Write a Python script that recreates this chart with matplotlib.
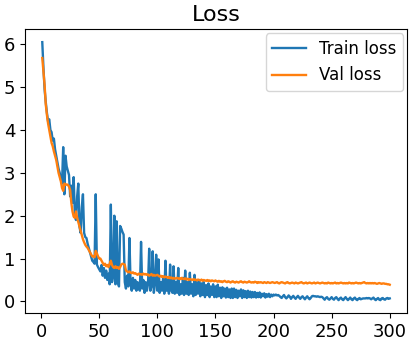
import numpy as np
import matplotlib
matplotlib.use("Agg")
import matplotlib.pyplot as plt

# values, one per epoch (1..300)
train_loss = [
    6.05, 5.45, 4.95, 4.65, 4.40, 4.20, 4.25, 4.00, 3.95, 3.75,
    3.80, 3.55, 3.40, 3.25, 3.10, 3.00, 2.85, 2.75, 3.60, 2.50,
    3.40, 3.15, 3.05, 2.95, 2.45, 2.70, 2.30, 2.90, 2.05, 1.90,
    2.45, 2.75, 1.75, 1.60, 2.20, 2.50, 1.60, 1.50, 1.48, 1.35,
    1.25, 1.15, 1.05, 0.95, 0.92, 0.88, 2.50, 0.86, 0.80, 0.75,
    0.70, 0.85, 0.60, 0.78, 0.55, 0.72, 0.50, 0.65, 0.40, 2.26,
    0.45, 0.60, 2.00, 0.40, 1.87, 0.45, 0.35, 1.76, 1.70, 1.62,
    1.56, 0.45, 0.30, 0.60, 0.35, 1.48, 0.40, 0.25, 0.55, 0.30,
    0.50, 0.25, 0.45, 0.30, 0.25, 1.39, 0.30, 0.50, 0.20, 0.45,
    0.25, 0.40, 1.23, 0.25, 0.35, 1.17, 0.20, 0.40, 1.09, 0.25,
    0.98, 0.20, 0.45, 0.25, 0.55, 0.18, 0.95, 0.25, 0.50, 0.18,
    0.86, 0.25, 0.20, 0.82, 0.18, 0.45, 0.20, 0.78, 0.15, 0.40,
    0.18, 0.55, 0.15, 0.72, 0.18, 0.45, 0.15, 0.67, 0.18, 0.40,
    0.12, 0.62, 0.15, 0.45, 0.18, 0.50, 0.12, 0.42, 0.15, 0.45,
    0.10, 0.38, 0.15, 0.42, 0.10, 0.35, 0.15, 0.40, 0.10, 0.35,
    0.10, 0.39, 0.12, 0.32, 0.08, 0.33, 0.12, 0.30, 0.09, 0.32,
    0.10, 0.28, 0.08, 0.30, 0.08, 0.30, 0.10, 0.27, 0.08, 0.25,
    0.12, 0.28, 0.08, 0.26, 0.10, 0.24, 0.08, 0.25, 0.10, 0.23,
    0.09, 0.22, 0.10, 0.22, 0.09, 0.20, 0.10, 0.21, 0.09, 0.18,
    0.12, 0.19, 0.09, 0.17, 0.11, 0.18, 0.10, 0.16, 0.12, 0.16,
    0.14, 0.16, 0.14, 0.15, 0.13, 0.10, 0.08, 0.12, 0.15, 0.10,
    0.07, 0.10, 0.14, 0.11, 0.06, 0.10, 0.13, 0.09, 0.06, 0.10,
    0.13, 0.09, 0.06, 0.10, 0.12, 0.08, 0.05, 0.09, 0.12, 0.08,
    0.05, 0.08, 0.12, 0.13, 0.12, 0.12, 0.11, 0.12, 0.11, 0.10,
    0.11, 0.10, 0.07, 0.04, 0.08, 0.10, 0.06, 0.04, 0.07, 0.10,
    0.06, 0.04, 0.08, 0.10, 0.06, 0.03, 0.07, 0.09, 0.05, 0.03,
    0.07, 0.10, 0.06, 0.03, 0.06, 0.09, 0.05, 0.03, 0.07, 0.09,
    0.05, 0.03, 0.06, 0.08, 0.05, 0.06, 0.07, 0.07, 0.07, 0.08,
    0.07, 0.08, 0.07, 0.05, 0.07, 0.09, 0.05, 0.03, 0.06, 0.08,
    0.04, 0.03, 0.07, 0.08, 0.05, 0.04, 0.07, 0.08, 0.06, 0.07,
]

val_loss = [
    5.68, 5.35, 5.05, 4.60, 4.35, 4.15, 4.00, 3.85, 3.70, 3.62,
    3.50, 3.40, 3.30, 3.15, 3.00, 2.90, 2.80, 2.65, 2.58, 2.75,
    2.72, 2.73, 2.72, 2.68, 2.60, 2.30, 2.10, 1.98, 1.95, 2.10,
    1.95, 1.85, 1.75, 1.65, 1.55, 1.45, 1.38, 1.32, 1.28, 1.25,
    1.20, 1.15, 1.10, 1.05, 1.05, 1.03, 1.18, 1.12, 1.05, 1.00,
    1.00, 0.95, 0.90, 0.85, 0.88, 0.82, 0.85, 0.80, 0.88, 0.95,
    0.85, 0.80, 0.78, 0.82, 0.78, 0.80, 0.76, 0.80, 0.86, 0.88,
    0.87, 0.86, 0.72, 0.70, 0.68, 0.70, 0.67, 0.66, 0.68, 0.65,
    0.66, 0.64, 0.62, 0.65, 0.63, 0.64, 0.62, 0.65, 0.63, 0.64,
    0.62, 0.63, 0.60, 0.62, 0.64, 0.60, 0.62, 0.60, 0.61, 0.62,
    0.60, 0.58, 0.60, 0.57, 0.59, 0.56, 0.58, 0.57, 0.55, 0.57,
    0.54, 0.56, 0.53, 0.55, 0.53, 0.54, 0.55, 0.53, 0.54, 0.52,
    0.55, 0.53, 0.52, 0.54, 0.51, 0.53, 0.50, 0.52, 0.51, 0.50,
    0.52, 0.50, 0.51, 0.49, 0.51, 0.50, 0.49, 0.51, 0.48, 0.50,
    0.49, 0.48, 0.50, 0.48, 0.49, 0.47, 0.49, 0.48, 0.47, 0.49,
    0.47, 0.46, 0.48, 0.46, 0.47, 0.45, 0.47, 0.48, 0.46, 0.45,
    0.47, 0.46, 0.44, 0.46, 0.47, 0.45, 0.44, 0.46, 0.45, 0.44,
    0.46, 0.47, 0.45, 0.44, 0.46, 0.45, 0.44, 0.45, 0.47, 0.45,
    0.44, 0.45, 0.44, 0.46, 0.45, 0.43, 0.45, 0.44, 0.45, 0.44,
    0.43, 0.45, 0.44, 0.43, 0.45, 0.44, 0.43, 0.44, 0.45, 0.44,
    0.43, 0.44, 0.45, 0.43, 0.42, 0.44, 0.45, 0.44, 0.43, 0.42,
    0.44, 0.45, 0.43, 0.42, 0.43, 0.44, 0.43, 0.42, 0.44, 0.43,
    0.42, 0.43, 0.44, 0.45, 0.43, 0.42, 0.43, 0.44, 0.42, 0.43,
    0.44, 0.43, 0.42, 0.43, 0.44, 0.42, 0.43, 0.44, 0.43, 0.42,
    0.43, 0.44, 0.43, 0.42, 0.43, 0.42, 0.44, 0.43, 0.42, 0.43,
    0.42, 0.43, 0.44, 0.42, 0.43, 0.42, 0.43, 0.44, 0.43, 0.42,
    0.43, 0.42, 0.43, 0.42, 0.44, 0.43, 0.42, 0.43, 0.42, 0.43,
    0.44, 0.43, 0.42, 0.43, 0.42, 0.43, 0.44, 0.45, 0.43, 0.42,
    0.43, 0.42, 0.43, 0.42, 0.43, 0.42, 0.43, 0.42, 0.41, 0.42,
    0.43, 0.42, 0.41, 0.42, 0.42, 0.41, 0.41, 0.40, 0.40, 0.39,
]

epochs = np.arange(1, len(train_loss) + 1)

fig = plt.figure(figsize=(4.15, 3.44), dpi=100)
ax = fig.add_axes([0.06, 0.09, 0.921, 0.825])

ax.plot(epochs, train_loss, label='Train loss', linewidth=1.7)
ax.plot(epochs, val_loss, label='Val loss', linewidth=1.7)
ax.set_title('Loss', fontsize=16)
ax.tick_params(labelsize=13)
ax.set_yticks([0, 1, 2, 3, 4, 5, 6])
ax.legend(loc='upper right', fontsize=12, borderaxespad=0.25)

plt.savefig('out.png', dpi=100)
